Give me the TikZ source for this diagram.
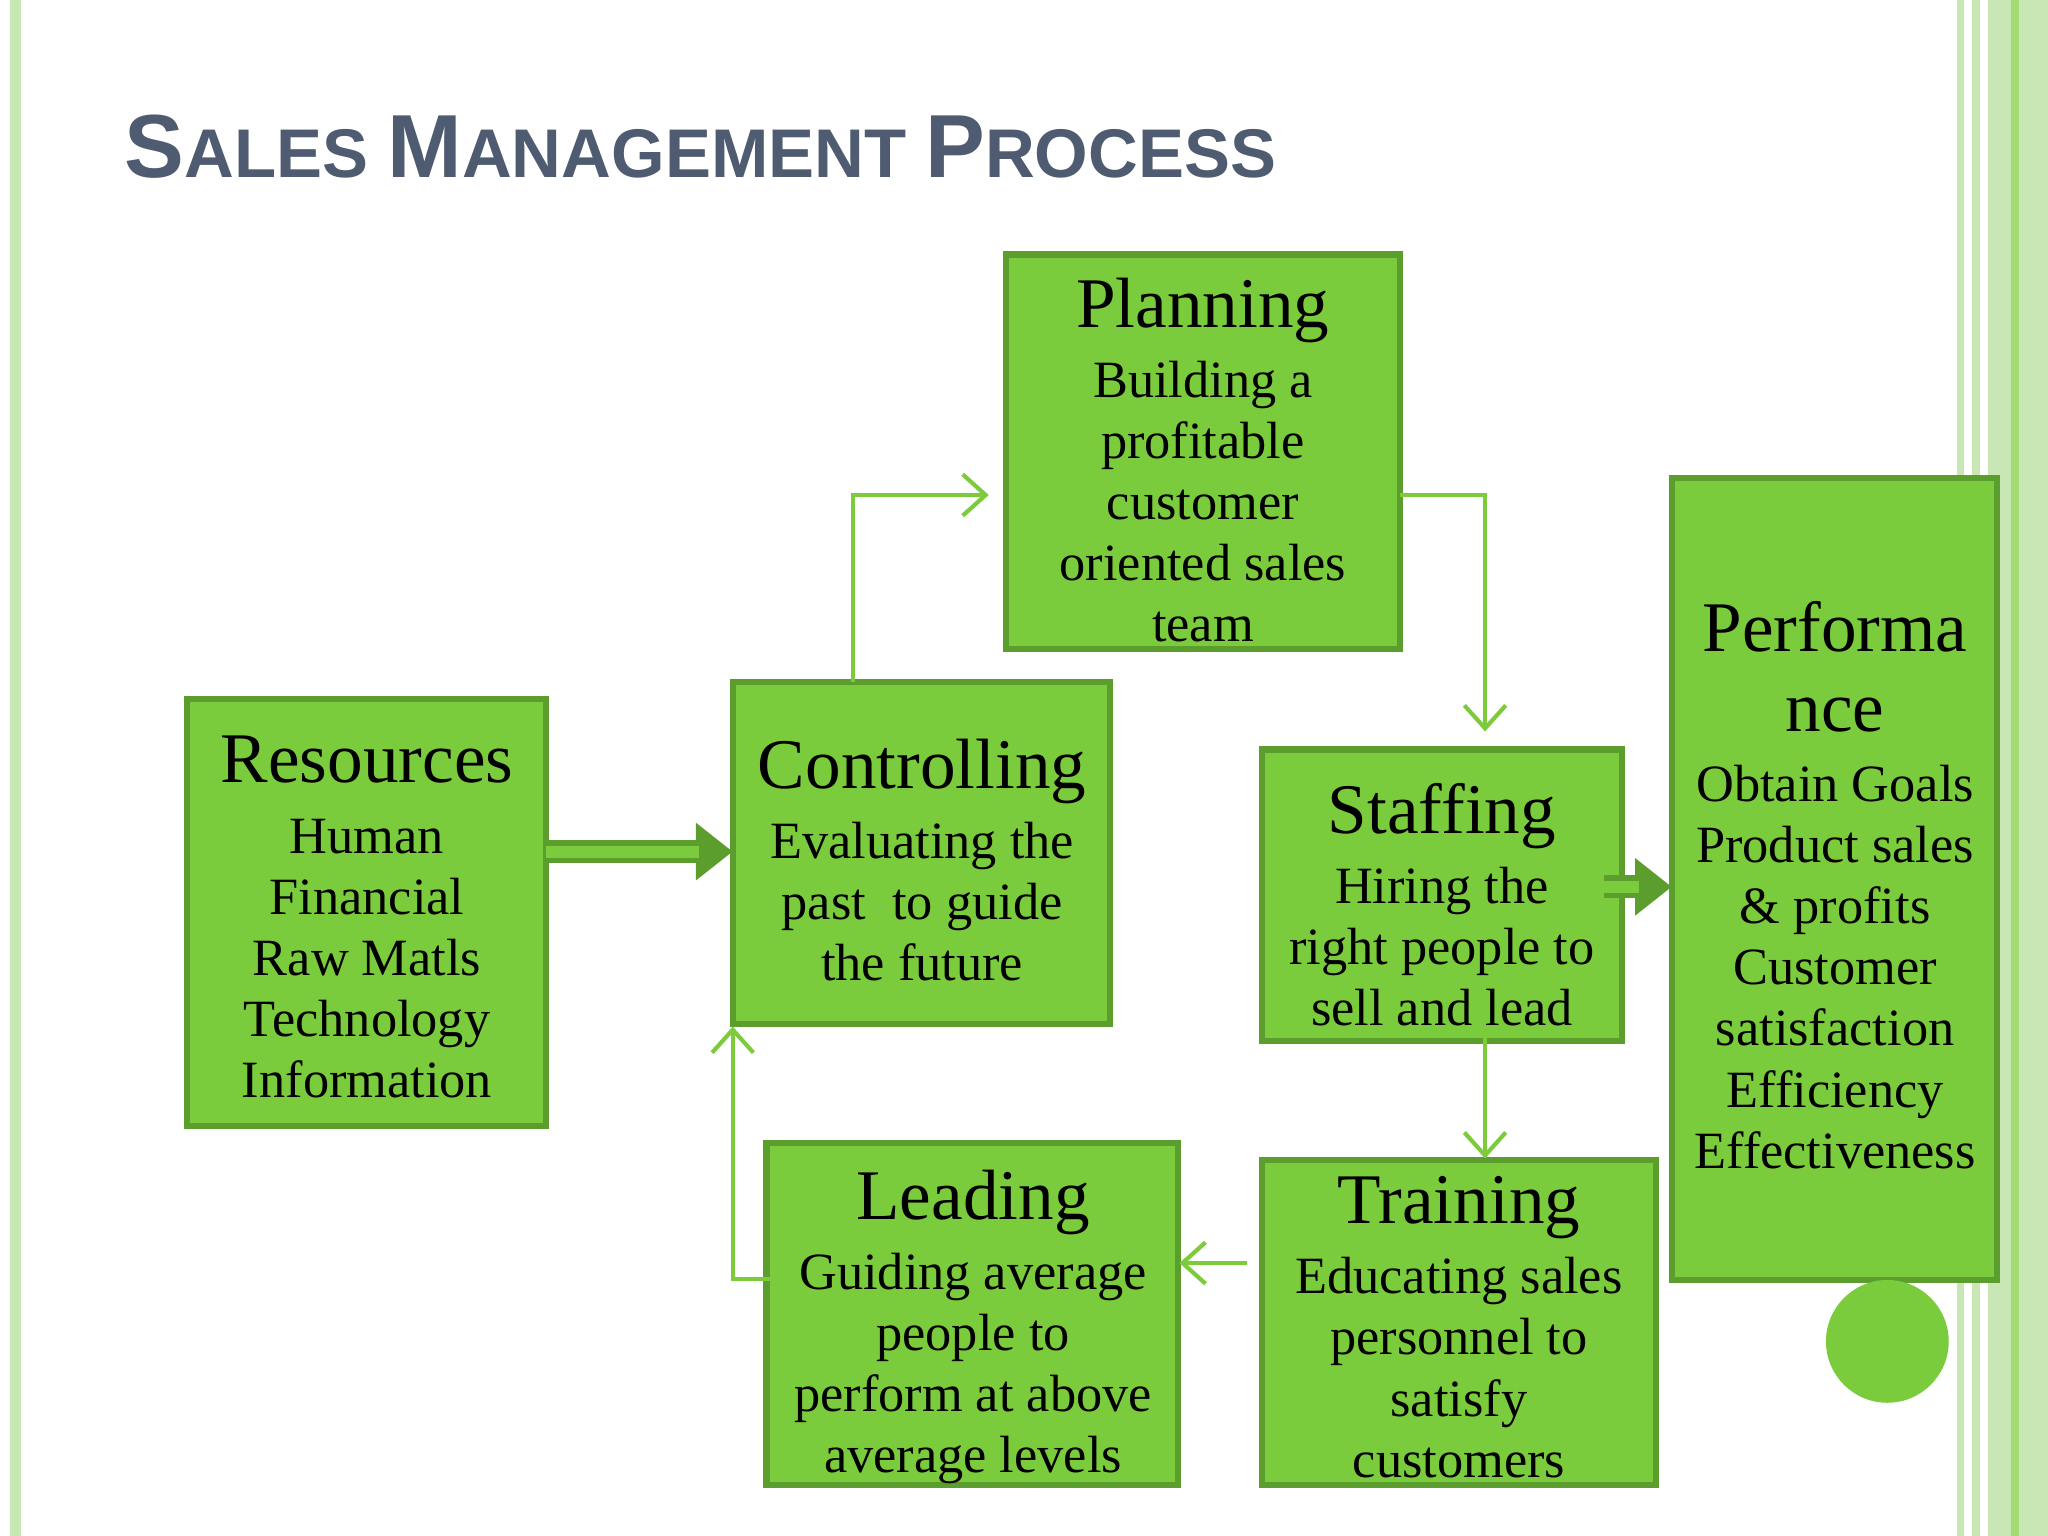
\documentclass[tikz,border=0pt]{standalone}
\usepackage{fontspec}
\setmainfont{Liberation Serif}
\newfontfamily\titlefont{Liberation Sans}
\usetikzlibrary{arrows.meta}
\definecolor{gfill}{HTML}{7BCC3D}
\definecolor{gdraw}{HTML}{5C9E2E}
\definecolor{gline}{HTML}{7CCB3A}
\definecolor{ttl}{HTML}{4F5B70}
\definecolor{stripe}{HTML}{C9E6B5}
\newcommand\hd[1]{{\fontsize{15.5}{17}\selectfont #1}\\[2pt]}
\newcommand\bg[1]{{\fontsize{15.5}{17}\selectfont #1}}
\begin{document}
\begin{tikzpicture}[x=0.01cm,y=-0.01cm,
  box/.style={draw=gdraw,line width=1.4pt,fill=gfill},
  txt/.style={align=center,font=\fontsize{11.4}{13.3pt}\selectfont,inner sep=0pt},
  thin/.style={draw=gline,line width=0.9pt,-{Straight Barb[length=5pt,width=9pt]}},
  fat/.style={draw=gdraw,line width=5pt,-{Triangle[length=8pt,width=12pt]}}]
\useasboundingbox (0,0) rectangle (1568,1176);
\fill[white] (0,0) rectangle (1568,1176);
% decorations
\fill[stripe] (8,0) rectangle (16,1176);
\fill[stripe] (1498,0) rectangle (1504,1176);
\fill[stripe] (1510,0) rectangle (1516,1176);
\fill[stripe] (1522,0) rectangle (1568,1176);
\fill[gline!70] (1540,0) rectangle (1546,1176);
\node[anchor=west,text=ttl,inner sep=0pt] (title) at (95,112) {\titlefont\bfseries
 {\fontsize{19.5}{20}\selectfont S}{\fontsize{15}{16}\selectfont ALES }{\fontsize{19.5}{20}\selectfont M}{\fontsize{15}{16}\selectfont ANAGEMENT }{\fontsize{19.5}{20}\selectfont P}{\fontsize{15}{16}\selectfont ROCESS}};
% boxes
\path[box] (770,195) rectangle (1072,497) node[pos=.5] (plan) {};
\path[box] (143,535) rectangle (418,862) node[pos=.5] (res) {};
\path[box] (561,522) rectangle (850,784) node[pos=.5] (ctrl) {};
\path[box] (966,574) rectangle (1242,797) node[pos=.5] (staff) {};
\path[box] (1280,366) rectangle (1529,980) node[pos=.5] (perf) {};
\path[box] (587,875) rectangle (902,1137) node[pos=.5] (lead) {};
\path[box] (966,888) rectangle (1268,1137) node[pos=.5] (train) {};
\fill[gfill] (1445,1027) circle (47);
% texts
\node[txt,anchor=north] (tplan) at (921,212) {\hd{Planning}Building a\\profitable\\customer\\oriented sales\\team};
\node[txt,anchor=north] (tres) at (281,563) {\hd{Resources}Human\\Financial\\Raw Matls\\Technology\\Information};
\node[txt,anchor=north] (tctrl) at (706,565) {\hd{Controlling}Evaluating the\\past \ to guide\\the future};
\node[txt,anchor=north] (tstaff) at (1104,599) {\hd{Staffing}Hiring the\\right people to\\sell and lead};
\node[txt,anchor=north] (tperf) at (1405,460) {\bg{Performa}\\[4pt]\bg{nce}\\[2pt]Obtain Goals\\Product sales\\\& profits\\Customer\\satisfaction\\Efficiency\\Effectiveness};
\node[txt,anchor=north] (tlead) at (745,895) {\hd{Leading}Guiding average\\people to\\perform at above\\average levels};
\node[txt,anchor=north] (ttrain) at (1117,900) {\hd{Training}Educating sales\\personnel to\\satisfy\\customers};
% connectors
\coordinate (c1) at (653,379); \coordinate (c2) at (757,379);
\draw[thin] (653,522) -- (c1) -- (c2);
\coordinate (p1) at (1072,379); \coordinate (p2) at (1137,379); \coordinate (p3) at (1137,560);
\draw[thin] (p1) -- (p2) -- (p3);
\coordinate (s1) at (1137,785); \coordinate (s2) at (1137,887);
\draw[thin] (s1) -- (s2);
\coordinate (t1) at (955,967); \coordinate (t2) at (903,967);
\draw[thin] (t1) -- (t2);
\coordinate (l1) at (610,979); \coordinate (l2) at (561,979); \coordinate (l3) at (561,786);
\draw[thin] (l1) -- (l2) -- (l3);
\coordinate (r1) at (418,652); \coordinate (r2) at (561,652);
\draw[fat] (r1) -- (r2);
\draw[gfill,line width=2.6pt,shorten >=6pt] (r1) -- (556,652);
\coordinate (f1) at (1228,679); \coordinate (f2) at (1280,679);
\draw[fat] (f1) -- (f2);
\draw[gfill,line width=2.6pt,shorten >=6pt] (f1) -- (1276,679);
\end{tikzpicture}
\end{document}
